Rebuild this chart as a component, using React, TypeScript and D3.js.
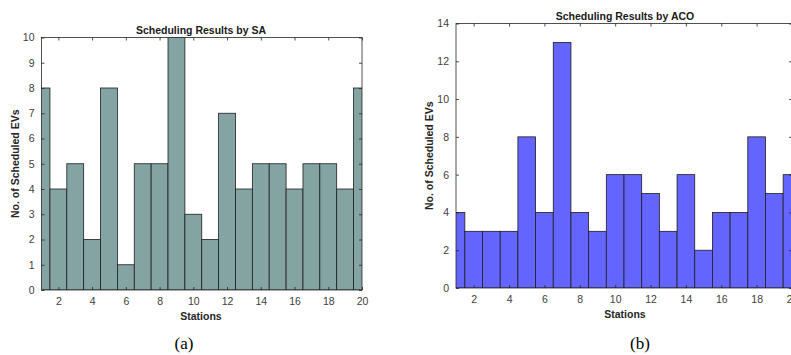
import React, { useEffect, useRef } from 'react';
import * as d3 from 'd3';

// stations 1..20
const stations = d3.range(1, 21);
const saCounts = [8, 4, 5, 2, 8, 1, 5, 5, 10, 3, 2, 7, 4, 5, 5, 4, 5, 5, 4, 8];
const acoCounts = [4, 3, 3, 3, 8, 4, 13, 4, 3, 6, 6, 5, 3, 6, 2, 4, 4, 8, 5, 6];
const xTicks = [2, 4, 6, 8, 10, 12, 14, 16, 18, 20];
const saYTicks = d3.range(0, 11);
const acoYTicks = [0, 2, 4, 6, 8, 10, 12, 14];

const panels = [
  {
    id: 'sa', title: 'Scheduling Results by SA', caption: '(a)', values: saCounts,
    yMax: 10, yTicks: saYTicks, fill: '#84a4a3',
    box: { left: 41.5, right: 362, top: 37.5, bottom: 290 },
  },
  {
    id: 'aco', title: 'Scheduling Results by ACO', caption: '(b)', values: acoCounts,
    yMax: 14, yTicks: acoYTicks, fill: '#6464fe',
    box: { left: 456, right: 792, top: 23.5, bottom: 288 },
  },
];

const font = '"Liberation Sans", Arial, sans-serif';

const App = () => {
  const svgRef = useRef<SVGSVGElement>(null);

  useEffect(() => {
    const svg = d3.select(svgRef.current);
    svg.selectAll('*').remove();

    panels.forEach(p => {
      const { left, right, top, bottom } = p.box;
      const x = d3.scaleLinear().domain([1, 20]).range([left, right]);
      const y = d3.scaleLinear().domain([0, p.yMax]).range([bottom, top]);
      const g = svg.append('g');

      g.append('clipPath').attr('id', `clip-${p.id}`)
        .append('rect')
        .attr('x', left).attr('y', top)
        .attr('width', right - left).attr('height', bottom - top);

      // bars
      g.append('g')
        .attr('clip-path', `url(#clip-${p.id})`)
        .selectAll('rect')
        .data(stations)
        .enter()
        .append('rect')
        .attr('x', d => x(d - 0.5))
        .attr('y', (d, i) => y(p.values[i]))
        .attr('width', d => x(d + 0.5) - x(d - 0.5))
        .attr('height', (d, i) => y(0) - y(p.values[i]))
        .attr('fill', p.fill)
        .attr('stroke', '#1e1e1e')
        .attr('stroke-width', 0.8);

      // box
      g.append('rect')
        .attr('x', left).attr('y', top)
        .attr('width', right - left).attr('height', bottom - top)
        .attr('fill', 'none')
        .attr('stroke', '#262626')
        .attr('stroke-width', 0.8);

      // x axis (bottom + mirrored top ticks)
      const xb = g.append('g')
        .attr('transform', `translate(0,${bottom})`)
        .call(d3.axisBottom(x).tickValues(xTicks).tickSize(-3).tickPadding(8).tickFormat(d3.format('d')));
      const xt = g.append('g')
        .attr('transform', `translate(0,${top})`)
        .call(d3.axisTop(x).tickValues(xTicks).tickSize(-3).tickFormat(() => ''));

      // y axis (left + mirrored right ticks)
      const yl = g.append('g')
        .attr('transform', `translate(${left},0)`)
        .call(d3.axisLeft(y).tickValues(p.yTicks).tickSize(-3).tickPadding(7).tickFormat(d3.format('d')));
      const yr = g.append('g')
        .attr('transform', `translate(${right},0)`)
        .call(d3.axisRight(y).tickValues(p.yTicks).tickSize(-3).tickFormat(() => ''));

      [xb, xt, yl, yr].forEach(a => {
        a.select('.domain').remove();
        a.selectAll('line').attr('stroke', '#262626').attr('stroke-width', 0.8);
        a.selectAll('text')
          .attr('fill', '#404040')
          .style('font-family', font)
          .style('font-size', '10.5px');
      });

      const cx = (left + Math.min(right, 791 + 2)) / 2;

      g.append('text')
        .attr('x', p.id === 'sa' ? 201 : 625)
        .attr('y', top - 4)
        .attr('text-anchor', 'middle')
        .style('font-family', font)
        .style('font-size', '10.5px')
        .style('font-weight', 'bold')
        .attr('fill', '#1a1a1a')
        .text(p.title);

      g.append('text')
        .attr('x', p.id === 'sa' ? 201 : 625)
        .attr('y', bottom + 30)
        .attr('text-anchor', 'middle')
        .style('font-family', font)
        .style('font-size', '10.5px')
        .style('font-weight', 'bold')
        .attr('fill', '#262626')
        .text('Stations');

      g.append('text')
        .attr('transform', `translate(${left - 23},${(top + bottom) / 2}) rotate(-90)`)
        .attr('text-anchor', 'middle')
        .style('font-family', font)
        .style('font-size', '10.5px')
        .style('font-weight', 'bold')
        .attr('fill', '#262626')
        .text('No. of Scheduled EVs');

      g.append('text')
        .attr('x', p.id === 'sa' ? 184 : 640)
        .attr('y', 349)
        .attr('text-anchor', 'middle')
        .style('font-family', '"Liberation Serif", "Times New Roman", serif')
        .style('font-size', '17px')
        .attr('fill', '#000')
        .text(p.caption);

      void cx;
    });
  }, []);

  return (
    <svg ref={svgRef} width={791} height={355}
      style={{ position: 'absolute', left: 0, top: 0, background: '#fff' }} />
  );
};

export default App;
